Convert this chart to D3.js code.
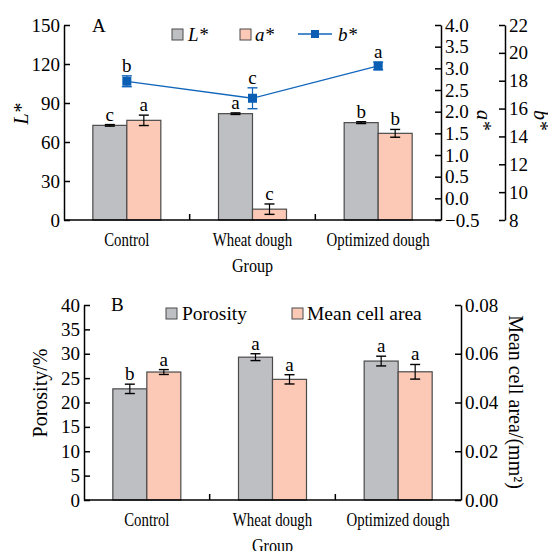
<!DOCTYPE html>
<html>
<head>
<meta charset="utf-8">
<script src="https://cdn.jsdelivr.net/npm/d3@7/dist/d3.min.js"></script>
<style>
body { margin: 0; background: #fff; }
text { font-family: "Liberation Serif", "Times New Roman", serif; fill: #000; }
</style>
</head>
<body>
<svg id="chart" width="548" height="551"></svg>
<script>
// data
var groups = ["Control", "Wheat dough", "Optimized dough"];

var lValues = [72.8, 81.8, 74.9];
var lErrors = [0.6, 0.6, 0.7];
var lLetters = ["c", "a", "b"];

var aValues = [1.80, -0.25, 1.50];
var aErrors = [0.12, 0.12, 0.09];
var aLetters = ["a", "c", "b"];

var bValues = [17.96, 16.74, 19.06];
var bErrors = [0.39, 0.75, 0.27];
var bLetters = ["b", "c", "a"];

var porosity = [22.8, 29.3, 28.5];
var porosityErr = [0.96, 0.7, 1.0];
var porosityLetters = ["b", "a", "a"];

var cellArea = [0.0525, 0.0495, 0.0526];
var cellAreaErr = [0.001, 0.0019, 0.003];
var cellAreaLetters = ["a", "a", "a"];

var lTicks = [0, 30, 60, 90, 120, 150];
var aTicks = [-0.5, 0, 0.5, 1, 1.5, 2, 2.5, 3, 3.5, 4];
var bTicks = [8, 10, 12, 14, 16, 18, 20, 22];
var porosityTicks = [0, 5, 10, 15, 20, 25, 30, 35, 40];
var cellTicks = [0, 0.02, 0.04, 0.06, 0.08];

var grayFill = "#bebfc3", pinkFill = "#fbc9b5", blue = "#1166bb";
var barW = 34;

var svg = d3.select("#chart");

// draw a y axis with inward ticks
function yAxis(g, scale, ticks, fmt, side) {
    var ax = (side == "left" ? d3.axisLeft(scale) : d3.axisRight(scale))
        .tickValues(ticks).tickFormat(fmt)
        .tickSizeInner(-6).tickSizeOuter(0).tickPadding(4);
    g.call(ax);
    g.select(".domain").attr("stroke-width", 1.5);
    g.selectAll(".tick line").attr("stroke-width", 1.5);
    g.selectAll(".tick text").attr("font-size", 19).attr("font-family", "Liberation Serif").attr("fill", "#000");
}

function xAxis(g, x, yBot) {
    g.append("line")
        .attr("x1", x.range()[0]).attr("x2", x.range()[1])
        .attr("y1", yBot).attr("y2", yBot)
        .attr("stroke", "#000").attr("stroke-width", 1.5);
    // ticks between groups, pointing up
    g.selectAll(".sep").data(groups.slice(1)).enter().append("line")
        .attr("x1", function(d){ return x(d); }).attr("x2", function(d){ return x(d); })
        .attr("y1", yBot).attr("y2", yBot - 6)
        .attr("stroke", "#000").attr("stroke-width", 1.5);
    // condensed category labels
    g.selectAll(".cat").data(groups).enter().append("text")
        .attr("transform", function(d){ return "translate(" + (x(d) + x.bandwidth()/2) + "," + (yBot + 26) + ") scale(0.78,1)"; })
        .attr("text-anchor", "middle").attr("font-size", 19)
        .text(function(d){ return d; });
    g.append("text")
        .attr("transform", "translate(" + ((x.range()[0] + x.range()[1])/2) + "," + (yBot + 52) + ") scale(0.85,1)")
        .attr("text-anchor", "middle").attr("font-size", 19)
        .text("Group");
}

function bars(g, x, y, values, errors, letters, offset, fill, base, color) {
    var cx = function(i){ return x(groups[i]) + x.bandwidth()/2 + offset; };
    g.selectAll(null).data(values).enter().append("rect")
        .attr("x", function(d, i){ return cx(i) - barW/2; })
        .attr("y", function(d){ return y(d); })
        .attr("width", barW)
        .attr("height", function(d){ return y(base) - y(d); })
        .attr("fill", fill).attr("stroke", "#4a4a4a").attr("stroke-width", 1.2);
    errorBars(g, cx, y, values, errors, letters, color || "#000");
}

function errorBars(g, cx, y, values, errors, letters, color) {
    values.forEach(function(v, i) {
        var top = y(v + errors[i]), bot = y(v - errors[i]);
        g.append("line").attr("x1", cx(i)).attr("x2", cx(i)).attr("y1", top).attr("y2", bot)
            .attr("stroke", color).attr("stroke-width", 1.2);
        [top, bot].forEach(function(yy) {
            g.append("line").attr("x1", cx(i) - 5).attr("x2", cx(i) + 5).attr("y1", yy).attr("y2", yy)
                .attr("stroke", color).attr("stroke-width", 1.4);
        });
        g.append("text").attr("x", cx(i)).attr("y", top - 4)
            .attr("text-anchor", "middle").attr("font-size", 19)
            .text(letters[i]);
    });
}

// ---------- Panel A ----------
var A = { left: 64, right: 441, top: 25, bot: 220, bAxis: 505 };
var xA = d3.scaleBand().domain(groups).range([A.left, A.right]);
var yL = d3.scaleLinear().domain([0, 150]).range([A.bot, A.top]);
var yA = d3.scaleLinear().domain([-0.5, 4]).range([A.bot, A.top]);
var yB = d3.scaleLinear().domain([8, 22]).range([A.bot, A.top]);

var gA = svg.append("g");
bars(gA, xA, yL, lValues, lErrors, lLetters, -barW/2, grayFill, 0);
bars(gA, xA, yA, aValues, aErrors, aLetters, barW/2, pinkFill, -0.5);

var bLine = d3.line()
    .x(function(d, i){ return xA(groups[i]) + xA.bandwidth()/2; })
    .y(function(d){ return yB(d); });
gA.append("path").datum(bValues).attr("d", bLine)
    .attr("fill", "none").attr("stroke", blue).attr("stroke-width", 1.3);
errorBars(gA, function(i){ return xA(groups[i]) + xA.bandwidth()/2; }, yB, bValues, bErrors, bLetters, blue);
gA.selectAll(".bpt").data(bValues).enter().append("rect")
    .attr("x", function(d, i){ return xA(groups[i]) + xA.bandwidth()/2 - 4.5; })
    .attr("y", function(d){ return yB(d) - 4.5; })
    .attr("width", 9).attr("height", 9).attr("fill", "#0a5fb4");

yAxis(gA.append("g").attr("transform", "translate(" + A.left + ",0)"), yL, lTicks, d3.format("d"), "left");
yAxis(gA.append("g").attr("transform", "translate(" + A.right + ",0)"), yA, aTicks, d3.format(".1f"), "right");
yAxis(gA.append("g").attr("transform", "translate(" + A.bAxis + ",0)"), yB, bTicks, d3.format("d"), "right");
xAxis(gA, xA, A.bot);

gA.append("text").attr("x", 92).attr("y", 32).attr("font-size", 19).text("A");
gA.append("text").attr("transform", "translate(28,114) rotate(-90)")
    .attr("text-anchor", "middle").attr("font-size", 20).attr("font-style", "italic").text("L*");
gA.append("text").attr("transform", "translate(477,120) rotate(90)")
    .attr("text-anchor", "middle").attr("font-size", 20).attr("font-style", "italic").text("a*");
gA.append("text").attr("transform", "translate(534,120) rotate(90)")
    .attr("text-anchor", "middle").attr("font-size", 20).attr("font-style", "italic").text("b*");

// legend A
var legA = gA.append("g");
legA.append("rect").attr("x", 172).attr("y", 29).attr("width", 11).attr("height", 11)
    .attr("fill", grayFill).attr("stroke", "#4a4a4a");
legA.append("text").attr("x", 188).attr("y", 41).attr("font-size", 19).attr("font-style", "italic").text("L*");
legA.append("rect").attr("x", 240).attr("y", 29).attr("width", 11).attr("height", 11)
    .attr("fill", pinkFill).attr("stroke", "#4a4a4a");
legA.append("text").attr("x", 255).attr("y", 41).attr("font-size", 19).attr("font-style", "italic").text("a*");
legA.append("line").attr("x1", 298).attr("x2", 332).attr("y1", 34).attr("y2", 34)
    .attr("stroke", blue).attr("stroke-width", 1.3);
legA.append("rect").attr("x", 311).attr("y", 30).attr("width", 8).attr("height", 8).attr("fill", "#0a5fb4");
legA.append("text").attr("x", 338).attr("y", 41).attr("font-size", 19).attr("font-style", "italic").text("b*");

// ---------- Panel B ----------
var B = { left: 84, right: 461, top: 305, bot: 500 };
var xB = d3.scaleBand().domain(groups).range([B.left, B.right]);
var yP = d3.scaleLinear().domain([0, 40]).range([B.bot, B.top]);
var yC = d3.scaleLinear().domain([0, 0.08]).range([B.bot, B.top]);

var gB = svg.append("g");
bars(gB, xB, yP, porosity, porosityErr, porosityLetters, -barW/2, grayFill, 0);
bars(gB, xB, yC, cellArea, cellAreaErr, cellAreaLetters, barW/2, pinkFill, 0);

yAxis(gB.append("g").attr("transform", "translate(" + B.left + ",0)"), yP, porosityTicks, d3.format("d"), "left");
yAxis(gB.append("g").attr("transform", "translate(" + B.right + ",0)"), yC, cellTicks, d3.format(".2f"), "right");
xAxis(gB, xB, B.bot);

gB.append("text").attr("x", 111).attr("y", 311).attr("font-size", 19).text("B");
gB.append("text").attr("transform", "translate(47,393) rotate(-90)")
    .attr("text-anchor", "middle").attr("font-size", 20).text("Porosity/%");
gB.append("text").attr("transform", "translate(509,402) rotate(90)")
    .attr("text-anchor", "middle").attr("font-size", 20).text("Mean cell area/(mm²)");

var legB = gB.append("g");
legB.append("rect").attr("x", 166).attr("y", 308).attr("width", 11).attr("height", 11)
    .attr("fill", grayFill).attr("stroke", "#4a4a4a");
legB.append("text").attr("x", 182).attr("y", 320).attr("font-size", 19.5).text("Porosity");
legB.append("rect").attr("x", 292).attr("y", 308).attr("width", 11).attr("height", 11)
    .attr("fill", pinkFill).attr("stroke", "#4a4a4a");
legB.append("text").attr("x", 307).attr("y", 320).attr("font-size", 19.5).text("Mean cell area");
</script>
</body>
</html>
